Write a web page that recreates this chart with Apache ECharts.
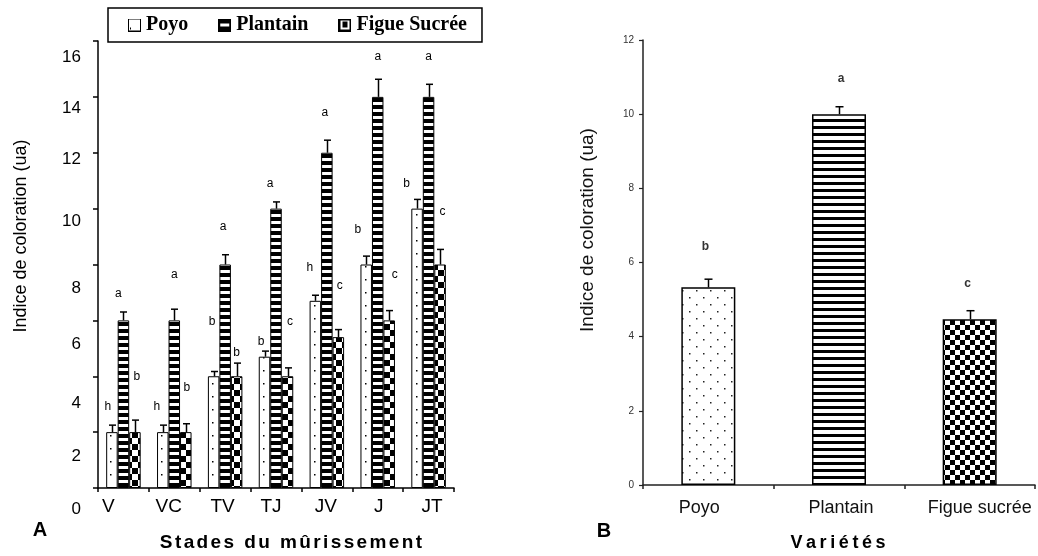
<!DOCTYPE html>
<html><head><meta charset="utf-8">
<script src="https://cdn.jsdelivr.net/npm/echarts@6/dist/echarts.min.js"></script>
<style>html,body{margin:0;padding:0;background:#fff}#c{width:1038px;height:556px}</style>
</head><body><div id="c"></div>
<script>
// ---------- DATA ----------
const stagesA = ['V', 'VC', 'TV', 'TJ', 'JV', 'J', 'JT'];
const seriesNamesA = ['Poyo', 'Plantain', 'Figue Sucrée'];
const poyoA = [2.0, 2.0, 4.0, 4.7, 6.7, 8.0, 10.0];
const plantainA = [6.0, 6.0, 8.0, 10.0, 12.0, 14.0, 14.0];
const figueA = [2.0, 2.0, 4.0, 4.0, 5.4, 6.0, 8.0];
const poyoErrA = [0.25, 0.25, 0.17, 0.2, 0.2, 0.3, 0.33];
const plantainErrA = [0.3, 0.4, 0.35, 0.24, 0.45, 0.63, 0.45];
const figueErrA = [0.43, 0.3, 0.47, 0.3, 0.27, 0.35, 0.54];
const poyoLetA = ['h', 'h', 'b', 'b', 'h', 'b', 'b'];
const plantainLetA = ['a', 'a', 'a', 'a', 'a', 'a', 'a'];
const figueLetA = ['b', 'b', 'b', 'c', 'c', 'c', 'c'];
const poyoLetValA = [2.9, 2.9, 5.95, 5.25, 7.9, 9.25, 10.9];
const plantainLetValA = [6.95, 7.65, 9.35, 10.9, 13.45, 15.45, 15.45];
const figueLetValA = [4.0, 3.6, 4.85, 5.95, 7.25, 7.65, 9.9];
const yTicksA = [0, 2, 4, 6, 8, 10, 12, 14, 16];

const varietiesB = ['Poyo', 'Plantain', 'Figue sucrée'];
const valuesB = [5.33, 10.0, 4.47];
const errB = [0.22, 0.2, 0.23];
const lettersB = ['b', 'a', 'c'];
const letterValB = [6.42, 10.95, 5.42];
const yTicksB = [0, 2, 4, 6, 8, 10, 12];

// ---------- STYLE ----------
const SANS = 'Liberation Sans, Arial, sans-serif';
const SERIF = 'Liberation Serif, Times New Roman, serif';
const poyoLetDx = [-4, -6, -1.5, -3.5, -5.5, -8.5, -10.5];
const plantainLetDx = [-5, 0, -2, -6, -2, 0, 0];
const figueLetDx = [2, 1, 0, 2.5, 1.5, 5.5, 2.5];
const letDxB = [-3, 2, -2];
const yLabelDropA = {0: 21, 2: 24, 4: 27, 6: 24, 8: 24, 10: 13, 12: 7, 14: 11, 16: 16};
const xLabelShiftA = [-15, -5.5, -2.5, -5, -1, 1, 3.5];
const xLabelShiftB = [-9, 2, 10];
const BAR_W_A = 11.5;

function mk(w, h, draw) {
  const c = document.createElement('canvas');
  c.width = w; c.height = h;
  const g = c.getContext('2d');
  g.fillStyle = '#fff'; g.fillRect(0, 0, w, h);
  g.fillStyle = '#000';
  draw(g);
  return c;
}
const patDotsA = mk(51, 13, g => g.fillRect(8, 6, 1.5, 1.5));
const patStripesA = mk(8, 7, g => g.fillRect(0, 0, 8, 4));
const patCheckA = mk(12, 12, g => { g.fillRect(0, 0, 6, 6); g.fillRect(6, 6, 6, 6); });
const patDotsB = mk(14, 14, g => { g.fillStyle = '#222'; g.fillRect(3, 3, 1.5, 1.5); g.fillRect(10, 10, 1.5, 1.5); });
const patStripesB = mk(8, 7, g => g.fillRect(0, 0, 8, 3));
const patCheckB = mk(10, 10, g => { g.fillRect(0, 0, 5, 5); g.fillRect(5, 5, 5, 5); });

const iconPoyo = mk(13, 13, g => { g.lineWidth = 1; g.strokeStyle = '#000'; g.strokeRect(0.5, 0.5, 12, 12); g.fillRect(2, 9, 1, 2); });
const iconPlantain = mk(13, 13, g => { g.fillRect(0, 0, 13, 13); g.fillStyle = '#fff'; g.fillRect(2, 5, 9, 3); });
const iconFigue = mk(13, 13, g => { g.fillRect(0, 0, 13, 13); g.fillStyle = '#fff'; g.fillRect(2, 2, 9, 9); g.fillStyle = '#000'; g.fillRect(4, 3, 5, 6); });

const patA = [patDotsA, patStripesA, patCheckA];
const patB = [patDotsB, patStripesB, patCheckB];
const iconsA = [iconPoyo, iconPlantain, iconFigue];
const legendTextW = [42, 73, 114];

const valsA = [poyoA, plantainA, figueA];
const errsA = [poyoErrA, plantainErrA, figueErrA];
const letsA = [poyoLetA, plantainLetA, figueLetA];
const letValsA = [poyoLetValA, plantainLetValA, figueLetValA];
const letDxA = [poyoLetDx, plantainLetDx, figueLetDx];

function errRender(offsetPx, cap, lw) {
  return function (params, api) {
    const x = api.value(0), v = api.value(1), e = api.value(2);
    const p0 = api.coord([x, v]);
    const p1 = api.coord([x, v + e]);
    const cx = Math.round(p0[0] + offsetPx) + 0.5;
    return {
      type: 'group', children: [
        {type: 'line', shape: {x1: cx, y1: p0[1], x2: cx, y2: p1[1]}, style: {stroke: '#000', lineWidth: lw}},
        {type: 'line', shape: {x1: cx - cap, y1: p1[1], x2: cx + cap, y2: p1[1]}, style: {stroke: '#000', lineWidth: lw}}
      ]
    };
  };
}
function letRender(offsetPx, texts, dxs, font, color) {
  return function (params, api) {
    const i = params.dataIndex;
    const p = api.coord([api.value(0), api.value(1)]);
    return {
      type: 'text', x: p[0] + offsetPx + dxs[i], y: p[1],
      style: {text: texts[i], font: font, fill: color, align: 'center', verticalAlign: 'middle'}
    };
  };
}
function spaced(str, name) {
  return Array.from(str).map(ch => '{' + name + '|' + ch + '}').join('');
}

const series = [];
seriesNamesA.forEach((nm, s) => {
  series.push({
    name: nm, type: 'bar', xAxisIndex: 0, yAxisIndex: 0,
    barWidth: BAR_W_A, barGap: '0%',
    data: valsA[s],
    itemStyle: {color: {image: patA[s], repeat: 'repeat'}, borderColor: '#000', borderWidth: 1},
    emphasis: {disabled: true}, z: 2
  });
});
seriesNamesA.forEach((nm, s) => {
  const off = (s - 1) * BAR_W_A;
  series.push({
    type: 'custom', xAxisIndex: 0, yAxisIndex: 0, z: 5, silent: true,
    renderItem: errRender(off, 3.5, 1.5),
    data: valsA[s].map((v, i) => [i, v, errsA[s][i]])
  });
  series.push({
    type: 'custom', xAxisIndex: 0, yAxisIndex: 0, z: 6, silent: true,
    renderItem: letRender(off, letsA[s], letDxA[s], '12px ' + SANS, '#000'),
    data: letValsA[s].map((v, i) => [i, v])
  });
});
series.push({
  name: 'Variétés', type: 'bar', xAxisIndex: 1, yAxisIndex: 1, barWidth: 54,
  data: valuesB.map((v, i) => ({value: v, itemStyle: {color: {image: patB[i], repeat: 'repeat'}}})),
  itemStyle: {borderColor: '#000', borderWidth: 1.5},
  emphasis: {disabled: true}, z: 2
});
series.push({
  type: 'custom', xAxisIndex: 1, yAxisIndex: 1, z: 5, silent: true,
  renderItem: errRender(0, 4, 1.5),
  data: valuesB.map((v, i) => [i, v, errB[i]])
});
series.push({
  type: 'custom', xAxisIndex: 1, yAxisIndex: 1, z: 6, silent: true,
  renderItem: letRender(0, lettersB, letDxB, 'bold 12px ' + SANS, '#333'),
  data: letterValB.map((v, i) => [i, v])
});

const yRichA = {};
yTicksA.forEach(v => { yRichA['o' + v] = {padding: [2 * yLabelDropA[v], 0, 0, 0], fontSize: 17, color: '#000', fontFamily: SANS}; });
const xRichA = {};
xLabelShiftA.forEach((s, i) => { xRichA['c' + i] = {padding: s < 0 ? [0, -2 * s, 0, 0] : [0, 0, 0, 2 * s], fontSize: 19, color: '#000', fontFamily: SANS}; });
const xRichB = {};
xLabelShiftB.forEach((s, i) => { xRichB['c' + i] = {padding: s < 0 ? [0, -2 * s, 0, 0] : [0, 0, 0, 2 * s], fontSize: 18, color: '#111', fontFamily: SANS}; });

const chart = echarts.init(document.getElementById('c'), null, {renderer: 'canvas'});
chart.setOption({
  animation: false,
  backgroundColor: '#fff',
  textStyle: {fontFamily: SANS},
  legend: {
    left: 108, top: 8, padding: [7, 15, 7, 20], itemGap: 30,
    itemWidth: 13, itemHeight: 13, selectedMode: false,
    borderColor: '#000', borderWidth: 1.5, borderRadius: 0,
    textStyle: {fontFamily: SERIF, fontWeight: 'bold', fontSize: 20, color: '#000'},
    data: seriesNamesA.map((n, i) => ({name: n, icon: 'image://' + iconsA[i].toDataURL(), textStyle: {width: legendTextW[i]}}))
  },
  grid: [
    {left: 98, top: 41, width: 356, height: 447, containLabel: false},
    {left: 643, top: 40, width: 392, height: 445, containLabel: false}
  ],
  xAxis: [
    {
      gridIndex: 0, type: 'category', data: stagesA,
      axisLine: {show: true, lineStyle: {color: '#000', width: 1.5}},
      axisTick: {show: true, length: 4, lineStyle: {color: '#000', width: 1.5}},
      axisLabel: {interval: 0, margin: 9, fontSize: 19, color: '#000',
        formatter: (v, i) => '{c' + i + '|' + v + '}', rich: xRichA},
      splitLine: {show: false}
    },
    {
      gridIndex: 1, type: 'category', data: varietiesB,
      axisLine: {show: true, lineStyle: {color: '#222', width: 1.5}},
      axisTick: {show: true, length: 4, lineStyle: {color: '#222', width: 1.5}},
      axisLabel: {interval: 0, margin: 14, fontSize: 18, color: '#111',
        formatter: (v, i) => '{c' + i + '|' + v + '}', rich: xRichB},
      splitLine: {show: false}
    }
  ],
  yAxis: [
    {
      gridIndex: 0, type: 'value', min: 0, max: 16, interval: 2,
      axisLine: {show: true, lineStyle: {color: '#000', width: 1.5}},
      axisTick: {show: true, length: 5, lineStyle: {color: '#000', width: 1.5}},
      axisLabel: {margin: 17, fontSize: 17, color: '#000',
        formatter: v => '{o' + v + '|' + v + '}', rich: yRichA},
      splitLine: {show: false}
    },
    {
      gridIndex: 1, type: 'value', min: 0, max: 12, interval: 2,
      axisLine: {show: true, lineStyle: {color: '#222', width: 1.5}},
      axisTick: {show: true, length: 4, lineStyle: {color: '#222', width: 1.2}},
      axisLabel: {margin: 9, fontSize: 10, color: '#333'},
      splitLine: {show: false}
    }
  ],
  graphic: [
    {type: 'text', x: 21, y: 236, rotation: Math.PI / 2,
      style: {text: 'Indice de coloration (ua)', font: '18px ' + SANS, fill: '#000', align: 'center', verticalAlign: 'middle'}},
    {type: 'text', x: 588, y: 230, rotation: Math.PI / 2,
      style: {text: 'Indice de coloration (ua)', font: '19px ' + SANS, fill: '#111', align: 'center', verticalAlign: 'middle'}},
    {type: 'text', x: 291, y: 543,
      style: {text: spaced('Stades du mûrissement', 'l'), align: 'center', verticalAlign: 'middle',
        rich: {l: {font: 'bold 19px ' + SANS, fill: '#000', padding: [0, 1.2, 0, 1.2]}}}},
    {type: 'text', x: 838, y: 543,
      style: {text: spaced('Variétés', 'l'), align: 'center', verticalAlign: 'middle',
        rich: {l: {font: 'bold 18px ' + SANS, fill: '#000', padding: [0, 1.8, 0, 1.8]}}}},
    {type: 'text', x: 40, y: 530,
      style: {text: 'A', font: 'bold 20px ' + SANS, fill: '#000', align: 'center', verticalAlign: 'middle'}},
    {type: 'text', x: 604, y: 531,
      style: {text: 'B', font: 'bold 20px ' + SANS, fill: '#000', align: 'center', verticalAlign: 'middle'}}
  ],
  series: series
});
</script>
</body></html>
